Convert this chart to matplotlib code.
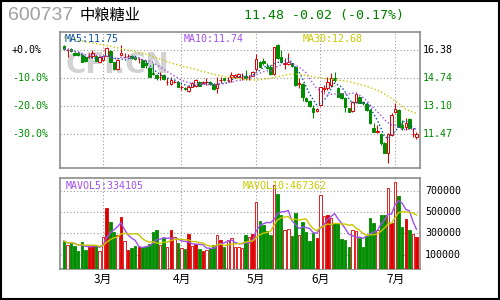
import numpy as np
import pandas as pd
import matplotlib
matplotlib.use("Agg")
import matplotlib.pyplot as plt
from matplotlib.patches import Rectangle
from matplotlib.transforms import blended_transform_factory

plt.rcParams['font.family'] = ['DejaVu Sans', 'Noto Sans CJK SC']

# daily bars, oldest first (price in yuan)
opens = [16.63, 16.36, 16.44, 16.23, 16.19, 16.09, 15.99, 16.03, 16.03, 16.05,
         15.70, 15.80, 16.05, 16.34, 15.66, 15.25, 16.07, 15.97, 16.03, 16.03,
         15.99, 15.84, 15.80, 15.60, 15.35, 15.04, 14.92, 14.81, 14.92, 14.52,
         14.40, 14.52, 14.54, 14.22, 14.15, 13.99, 14.24, 14.28, 14.54, 14.48,
         14.52, 14.54, 14.40, 14.15, 14.61, 14.73, 14.61, 14.79, 14.83, 14.83,
         14.81, 14.89, 14.81, 14.89, 15.25, 15.70, 15.74, 15.41, 15.37, 14.98,
         16.67, 15.99, 15.58, 15.55, 15.60, 15.41, 14.38, 14.40, 13.57, 13.43,
         13.02, 12.83, 13.18, 14.13, 14.15, 14.34, 14.77, 14.15, 13.86, 13.57,
         12.98, 12.83, 13.37, 13.66, 13.37, 13.24, 12.89, 11.86, 11.60, 11.49,
         10.98, 10.40, 11.43, 12.79, 12.89, 12.01, 11.88, 12.34, 11.49, 11.33]
closes = [16.44, 16.38, 16.30, 16.11, 16.09, 15.70, 15.72, 16.05, 16.19, 15.76,
          15.99, 16.05, 16.52, 15.70, 15.25, 15.80, 16.19, 15.99, 16.05, 15.93,
          15.86, 15.86, 15.41, 15.51, 14.83, 15.00, 14.73, 14.83, 14.67, 14.54,
          14.63, 14.54, 14.24, 14.24, 14.09, 14.24, 14.44, 14.63, 14.30, 14.50,
          14.54, 14.40, 14.09, 14.40, 14.63, 14.63, 14.63, 14.92, 14.92, 14.96,
          14.83, 14.77, 14.83, 15.12, 15.86, 15.41, 15.60, 15.31, 14.96, 16.54,
          15.90, 15.70, 15.60, 15.66, 15.45, 14.34, 14.44, 13.66, 13.43, 13.12,
          12.79, 12.94, 14.21, 14.15, 14.54, 14.73, 14.63, 13.66, 13.57, 13.08,
          12.79, 13.37, 13.82, 13.31, 13.27, 12.89, 12.11, 11.62, 11.66, 10.94,
          10.40, 11.47, 12.60, 12.94, 11.92, 11.82, 12.11, 11.82, 11.50, 11.48]
highs = [16.67, 16.48, 16.48, 16.27, 16.23, 16.13, 16.03, 16.19, 16.38, 16.09,
         16.03, 16.09, 16.56, 16.40, 15.70, 15.84, 16.67, 16.19, 16.13, 16.07,
         16.03, 15.93, 15.84, 15.80, 15.41, 15.60, 14.98, 15.12, 14.96, 14.73,
         14.83, 14.63, 14.58, 14.34, 14.20, 14.34, 14.50, 14.67, 14.58, 14.56,
         14.73, 14.58, 14.44, 14.83, 14.83, 14.77, 14.83, 15.12, 14.98, 15.02,
         15.02, 15.22, 14.92, 15.18, 16.15, 15.76, 15.90, 15.60, 15.51, 16.58,
         16.73, 16.38, 15.90, 16.19, 15.64, 15.45, 14.73, 14.44, 13.66, 13.47,
         13.18, 12.98, 14.25, 14.34, 14.83, 15.02, 15.12, 14.20, 13.90, 13.66,
         13.02, 13.41, 13.95, 13.70, 13.41, 13.27, 12.94, 12.11, 12.01, 11.53,
         11.04, 11.53, 12.69, 13.31, 12.94, 12.30, 12.40, 12.40, 11.82, 11.62]
lows = [16.40, 15.99, 16.26, 16.07, 16.05, 15.66, 15.68, 15.90, 15.93, 15.72,
        15.66, 15.76, 16.01, 15.66, 15.20, 15.22, 16.05, 15.90, 15.97, 15.88,
        15.82, 15.60, 15.37, 15.31, 14.79, 14.92, 14.63, 14.63, 14.63, 14.34,
        14.34, 14.46, 14.20, 14.05, 14.05, 13.95, 14.20, 14.24, 14.26, 14.40,
        14.34, 14.36, 14.05, 13.90, 14.44, 14.58, 14.54, 14.54, 14.77, 14.79,
        14.63, 14.63, 14.63, 14.85, 15.18, 15.37, 15.51, 15.25, 14.92, 14.94,
        15.86, 15.60, 15.25, 15.51, 15.41, 14.30, 14.15, 13.41, 13.37, 13.08,
        12.44, 12.79, 13.12, 13.95, 14.05, 14.25, 14.54, 13.62, 13.53, 12.79,
        12.75, 12.79, 13.27, 13.27, 13.20, 12.85, 12.07, 11.58, 11.53, 10.85,
        10.36, 9.82, 11.37, 12.69, 11.88, 11.72, 11.72, 11.78, 11.33, 11.18]
volumes = [229000, 191000, 219000, 182000, 135000, 219000, 144000, 191000, 191000, 182000,
           135000, 266000, 538000, 407000, 313000, 282000, 453000, 229000, 144000, 166000,
           182000, 172000, 172000, 182000, 203000, 313000, 332000, 191000, 260000, 172000,
           332000, 266000, 210000, 163000, 156000, 297000, 182000, 198000, 156000, 135000,
           144000, 166000, 191000, 285000, 238000, 175000, 238000, 257000, 175000, 175000,
           166000, 285000, 266000, 297000, 594000, 419000, 379000, 322000, 285000, 753000,
           672000, 475000, 332000, 344000, 275000, 494000, 285000, 407000, 313000, 229000,
           300000, 257000, 657000, 460000, 472000, 441000, 400000, 400000, 250000, 238000,
           175000, 332000, 322000, 260000, 175000, 275000, 444000, 400000, 332000, 472000,
           472000, 722000, 400000, 781000, 650000, 360000, 434000, 332000, 294000, 269000]
# days whose red volume bar is drawn solid instead of hollow
solid_red_days = [7, 8, 12, 16, 18, 21, 30, 35, 37, 39, 44, 53, 71, 74, 92, 96, 99]

# MA30 at a few days (history before the window is not shown)
ma30_days = [0, 10, 13, 17, 23, 29, 33, 36, 41, 45, 51, 54, 58, 63, 66, 71, 77, 80, 85, 89, 92, 94, 96, 99]
ma30_vals = [17.12, 16.71, 16.61, 16.42, 16.15, 15.70, 15.45, 15.31, 15.02, 14.83, 14.67, 14.63,
             14.73, 14.96, 14.98, 14.79, 14.63, 14.54, 14.28, 13.95, 13.57, 13.27, 12.94, 12.68]

month_days = [11, 33, 54, 72, 93]
month_labels = ["3月", "4月", "5月", "6月", "7月"]
price_ticks = [16.38, 14.74, 13.10, 11.47]
pct_labels = ["+0.0%", "-10.0%", "-20.0%", "-30.0%"]
vol_ticks = [700000, 500000, 300000, 100000]

RED = '#dd0000'
GREEN = '#008c00'
GRID = '#9a9a9a'
FRAME = '#8c8c8c'
MONO = 'DejaVu Sans Mono'

o = np.array(opens)
c = np.array(closes)
h = np.array(highs)
l = np.array(lows)
v = np.array(volumes)
x = np.arange(len(c))
up = c >= o

ma5 = pd.Series(c).rolling(5, min_periods=1).mean()
ma10 = pd.Series(c).rolling(10, min_periods=1).mean()
mv5 = pd.Series(v).rolling(5, min_periods=1).mean()
mv10 = pd.Series(v).rolling(10, min_periods=1).mean()

fig = plt.figure(figsize=(5, 3), dpi=100)
ax = fig.add_axes([0.12, 0.441, 0.72, 0.4533])
axv = fig.add_axes([0.12, 0.1033, 0.72, 0.3034])

for a in (ax, axv):
    a.set_xlim(-1.12, 100.0)
    for s in a.spines.values():
        s.set_color(FRAME)
        s.set_linewidth(1.2)
    a.set_xticks(month_days)
    a.tick_params(length=0, labelleft=False, labelbottom=False)
    a.grid(True, color=GRID, lw=0.8, ls=(0, (1, 2)))
    a.set_axisbelow(True)

# ---- price panel
ax.set_ylim(9.525, 17.45)
ax.set_yticks(price_ticks)
ax.text(0.234, 0.783, "CFI.CN", transform=fig.transFigure, ha='center', va='center',
        fontsize=20, fontweight='bold', color='#d2d2d2', zorder=1)

ax.vlines(x, l, h, colors=np.where(up, RED, GREEN), lw=0.75, zorder=3)
body_bot = np.minimum(o, c)
body_h = np.maximum(np.abs(c - o), 0.01)
ax.bar(x, body_h, bottom=body_bot, width=0.7,
       facecolor=np.where(up, 'white', GREEN), edgecolor=np.where(up, RED, GREEN),
       lw=0.7, zorder=4)

dots = (0, (1, 1.6))
ax.plot(x, ma5, color='#0a4f9e', lw=1.0, ls=dots, zorder=5)
ax.plot(x, ma10, color='#a050f0', lw=1.0, ls=dots, zorder=5)
ax.plot(ma30_days, ma30_vals, color='#c8c800', lw=1.0, ls=dots, zorder=5)

ytr = blended_transform_factory(fig.transFigure, ax.transData)
for i, (p, lab) in enumerate(zip(price_ticks, pct_labels)):
    col = 'black' if i == 0 else GREEN
    ax.text(0.024, p, lab, transform=ytr, ha='left', va='center', fontsize=7.2,
            family=MONO, color=col)
    ax.text(0.846, p, f"{p:.2f}", transform=ytr, ha='left', va='center', fontsize=7.2,
            family=MONO, color=col)

fig.text(0.130, 0.870, "MA5:11.75", color='#0a4f9e', fontsize=7.2, family=MONO, va='center')
fig.text(0.368, 0.870, "MA10:11.74", color='#a050f0', fontsize=7.2, family=MONO, va='center')
fig.text(0.606, 0.870, "MA30:12.68", color='#c8c800', fontsize=7.2, family=MONO, va='center')

# ---- volume panel
vbase = -34000
axv.set_ylim(vbase, 819000)
axv.set_yticks(vol_ticks)
solid = np.isin(x, solid_red_days)
vface = np.where(up, np.where(solid, RED, 'white'), GREEN)
vedge = np.where(up, RED, GREEN)
axv.bar(x, v - vbase, bottom=vbase, width=0.7, facecolor=vface, edgecolor=vedge,
        lw=0.6, zorder=3)
axv.plot(x, mv5, color='#a050f0', lw=1.0, zorder=4)
axv.plot(x, mv10, color='#c8c800', lw=1.0, zorder=4)

vtr = blended_transform_factory(fig.transFigure, axv.transData)
for t in vol_ticks:
    axv.text(0.85, t, f"{t}", transform=vtr, ha='left', va='center', fontsize=7.2,
             family=MONO, color='black')

fig.text(0.132, 0.380, "MAVOL5:334105", color='#a050f0', fontsize=7.2, family=MONO, va='center')
fig.text(0.486, 0.380, "MAVOL10:467362", color='#c8c800', fontsize=7.2, family=MONO, va='center')

axv.tick_params(labelbottom=True, pad=2.5)
axv.set_xticklabels(month_labels, fontsize=8.5, family=['Noto Sans CJK SC', 'DejaVu Sans'])

# ---- header
fig.text(0.016, 0.948, "600737", color='#a0a0a0', fontsize=14, family='Liberation Sans', va='center')
fig.text(0.160, 0.948, "中粮糖业", color='black', fontsize=11, family=['Noto Sans CJK SC'], va='center')
fig.text(0.488, 0.948, "11.48 -0.02 (-0.17%)", color='#008000', fontsize=9.5, family=MONO, va='center')

fig.patches.append(Rectangle((0.001, 0.002), 0.997, 0.996, transform=fig.transFigure,
                             fill=False, edgecolor='black', lw=1.5))

fig.savefig("out.png", dpi=100)
